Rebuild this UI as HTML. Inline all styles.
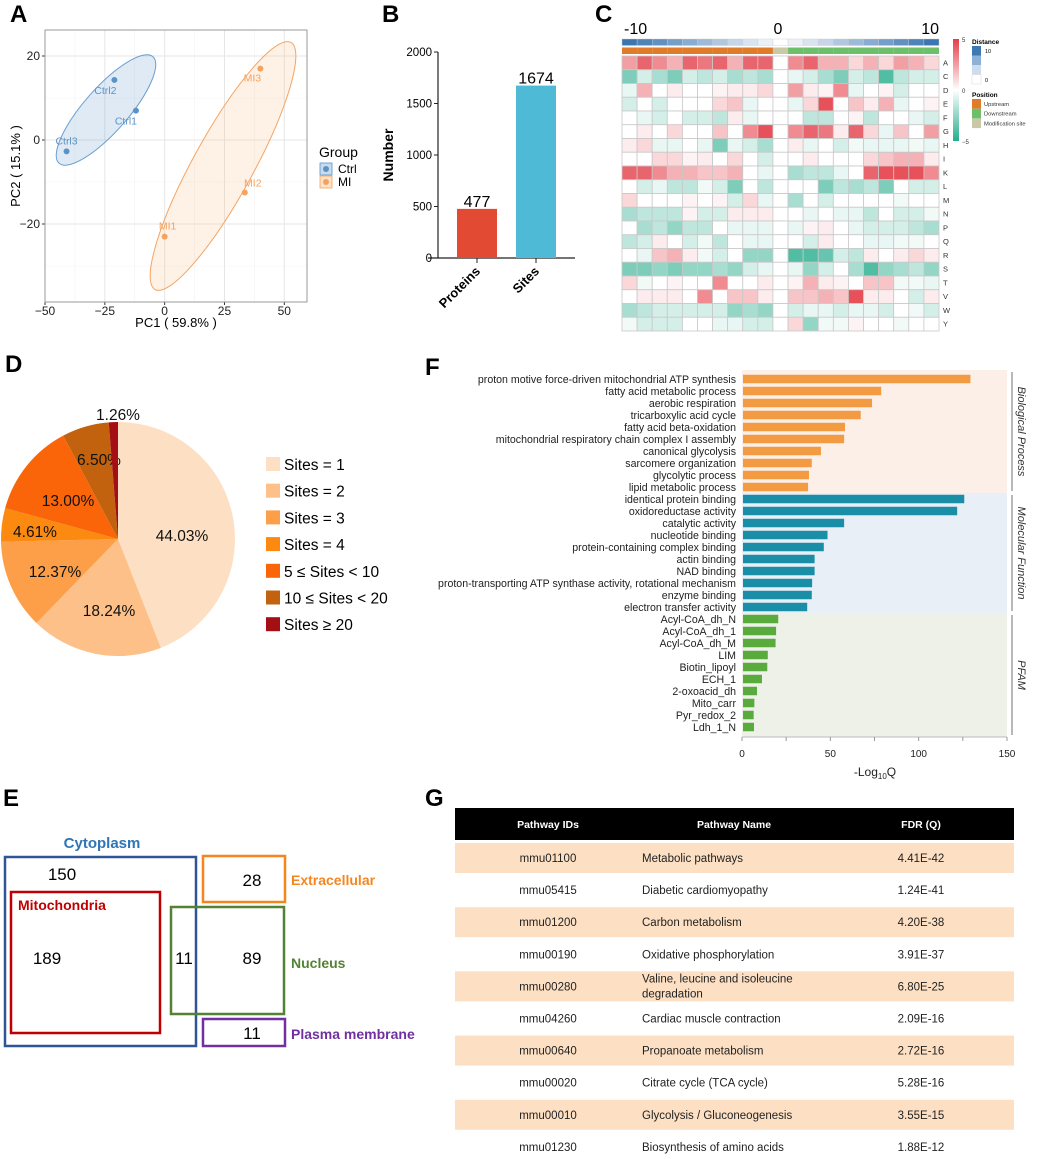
<!DOCTYPE html>
<html><head><meta charset="utf-8">
<style>
html,body{margin:0;padding:0;background:#fff;}
svg{display:block;font-family:"Liberation Sans",Arial,sans-serif;}
</style></head>
<body>
<svg id="fig" width="1052" height="1159" viewBox="0 0 1052 1159" xmlns="http://www.w3.org/2000/svg">
<rect x="0" y="0" width="1052" height="1159" fill="#fff"/>
<text x="10" y="22" font-size="24" font-weight="bold">A</text>
<text x="382" y="22" font-size="24" font-weight="bold">B</text>
<text x="595" y="22" font-size="24" font-weight="bold">C</text>
<text x="5" y="372" font-size="24" font-weight="bold">D</text>
<text x="425" y="375" font-size="24" font-weight="bold">F</text>
<text x="3" y="806" font-size="24" font-weight="bold">E</text>
<text x="425" y="806" font-size="24" font-weight="bold">G</text>

<!-- Panel E Venn-like boxes -->
<g>
<text x="102" y="848" font-size="15" font-weight="bold" fill="#2e75b6" text-anchor="middle">Cytoplasm</text>
<rect x="5" y="857" width="191" height="189" fill="none" stroke="#2f5597" stroke-width="2.5"/>
<text x="62" y="880" font-size="17" text-anchor="middle">150</text>
<rect x="11" y="892" width="149" height="141" fill="none" stroke="#c00000" stroke-width="2.5"/>
<text x="18" y="910" font-size="14" font-weight="bold" fill="#c00000">Mitochondria</text>
<text x="47" y="964" font-size="17" text-anchor="middle">189</text>
<rect x="171" y="907" width="113" height="107" fill="none" stroke="#548235" stroke-width="2.5"/>
<text x="184" y="964" font-size="17" text-anchor="middle">11</text>
<text x="252" y="964" font-size="17" text-anchor="middle">89</text>
<rect x="203" y="856" width="82" height="46" fill="none" stroke="#f5861f" stroke-width="2.5"/>
<text x="252" y="886" font-size="17" text-anchor="middle">28</text>
<rect x="203" y="1019" width="82" height="27" fill="none" stroke="#7030a0" stroke-width="2.5"/>
<text x="252" y="1039" font-size="17" text-anchor="middle">11</text>
<text x="291" y="885" font-size="14" font-weight="bold" fill="#f5861f">Extracellular</text>
<text x="291" y="968" font-size="14" font-weight="bold" fill="#548235">Nucleus</text>
<text x="291" y="1039" font-size="14" font-weight="bold" fill="#7030a0">Plasma membrane</text>
</g>
</svg>
<script>
const NS='http://www.w3.org/2000/svg';
const svg=document.getElementById('fig');
function el(tag,attrs,parent){const e=document.createElementNS(NS,tag);for(const k in attrs)e.setAttribute(k,attrs[k]);(parent||svg).appendChild(e);return e;}
function tx(str,attrs,parent){const e=el('text',attrs,parent);e.textContent=str;return e;}

/* ---------- Panel A data ---------- */
const pcaLabels=['Ctrl1','Ctrl2','Ctrl3','MI1','MI2','MI3'];
const pcaGroups=['Ctrl','Ctrl','Ctrl','MI','MI','MI'];
const pcaX=[-12,-21,-41,0,33.5,40];
const pcaY=[7,14.3,-2.7,-23,-12.5,17];
const pcaXTicks=[-50,-25,0,25,50];
const pcaYTicks=[-20,0,20];
/* ---------- Panel B data ---------- */
const barCats=['Proteins','Sites'];
const barVals=[477,1674];
const barTicks=[0,500,1000,1500,2000];
/* ---------- Panel C data ---------- */
const hmRows=['A','C','D','E','F','G','H','I','K','L','M','N','P','Q','R','S','T','V','W','Y'];
const hmPos=[-10,-9,-8,-7,-6,-5,-4,-3,-2,-1,0,1,2,3,4,5,6,7,8,9,10];
const hmA=[2.5,4,3,2,4,3.5,4,2,4,4,0,3,4,2,2,1,2,1,2.5,2,1];
const hmC=[-3,-1,-2,-3,-1,-1.5,-1,-2,-1.5,-2,0,-0.5,-1,-2,-3,-1,-1.5,-4,-1.5,-1,-1];
const hmD=[-0.5,2,0,0.5,0,0,0.3,0.5,0.5,1,0,2.5,0.5,0.3,3,-0.5,0,0.3,-1,0,0];
const hmE=[-1,0,-1,0,0,0,1,1.5,-0.5,0,0,-0.5,1,4.5,0,1.5,0.5,2,-0.5,0,0.3];
const hmF=[0,-0.5,-1,0,-1,-1,-1.5,0.5,-0.5,0,0,0,-1.5,-1.5,0,0.3,-1.5,0,0,-0.5,-1];
const hmG=[0,0.5,0,1,0,0,1.5,0,3,4.5,0,3,4,3.5,0.5,4,1,-0.5,1.5,0,2.5];
const hmH=[0.5,1,-0.5,-0.5,0,-0.5,-3,-0.5,-1,-2,0,0.5,-0.5,0,-1,-0.3,-0.5,-0.5,-0.5,-0.3,-0.5];
const hmI=[0,0,1,1,0.3,0.5,0,1,0,-1,0,0,0.5,0,0,0,1,1.5,2,2,0.5];
const hmK=[4,4,3,2,2,1.5,1.5,2,0,-0.5,0,-2,-1.5,-1.5,-0.5,0,4,4.5,4.5,4.5,3];
const hmL=[0,-1,-0.5,-1.5,-1.5,-0.3,-1,-3,0,-1.5,0,0,0,-3,-1.5,-2,-1.5,-3,0,-1,-1];
const hmM=[1,0,0,0,0.3,0,0.3,-1,1,-0.5,0,-2,0,-1,0,0,0,0,-0.3,0,0];
const hmN=[-2,-1.5,-1.5,-1.5,0.3,-1,-1,0.5,0.5,0.5,0,0,-0.5,0,-0.5,-0.5,-1.5,0,-1,-1,-0.3];
const hmP=[0,-2,-1.5,-2.5,-1.5,-1.5,0,-0.5,-0.5,-0.5,0,-0.5,0.3,0.5,0,-0.5,-1,-1,-1,-1.5,-2];
const hmQ=[-1.5,-1,0.5,0,-1,-0.3,-1.5,0,-0.5,-0.5,0,0,-1,0.5,0,0,-0.5,-0.5,-0.3,-0.3,0];
const hmR=[0,-0.5,1.5,2,0.5,-0.3,-1,0,-2.5,-2.5,0,-4,-4,-3.5,-1,-1.5,0.5,0,0.5,1,0.5];
const hmS=[-3,-3,-2.5,-3,-2.5,-2.5,-2,-2.5,-1,-0.5,0,-0.5,-2.5,-1,0,-2,-4,-2.5,-2,-1.5,-2.5];
const hmT=[1,-0.3,0,0.3,0,0,3,0,0,0.5,0,0.3,2,0.5,0.3,0,1.5,1.5,-0.3,-0.3,-0.5];
const hmV=[0,0.5,0.5,0.5,0,3,0,1.5,1.5,0.5,0,1.5,1.5,2,1.5,4.5,0.5,0.5,0,-1,0.5];
const hmW=[-2,-1.5,-1,-1,-1,-1,-1,-2.5,-2,-2.5,0,-1,-0.5,-0.5,-1,-0.5,-0.5,-1,0,-0.3,-1];
const hmY=[-0.3,-1,-1,-1,0,0,-0.5,-0.5,-1,-1,0,1,-2.5,-0.3,-0.3,0.3,0,0,-0.3,0,0];
const hmValues=[hmA,hmC,hmD,hmE,hmF,hmG,hmH,hmI,hmK,hmL,hmM,hmN,hmP,hmQ,hmR,hmS,hmT,hmV,hmW,hmY];
/* ---------- Panel D data ---------- */
const pieLabels=['Sites = 1','Sites = 2','Sites = 3','Sites = 4','5 \u2264 Sites < 10','10 \u2264 Sites < 20','Sites \u2265 20'];
const pieVals=[44.03,18.24,12.37,4.61,13.00,6.50,1.26];
/* ---------- Panel F data ---------- */
const goTerms=['proton motive force-driven mitochondrial ATP synthesis','fatty acid metabolic process','aerobic respiration','tricarboxylic acid cycle','fatty acid beta-oxidation','mitochondrial respiratory chain complex I assembly','canonical glycolysis','sarcomere organization','glycolytic process','lipid metabolic process',
'identical protein binding','oxidoreductase activity','catalytic activity','nucleotide binding','protein-containing complex binding','actin binding','NAD binding','proton-transporting ATP synthase activity, rotational mechanism','enzyme binding','electron transfer activity',
'Acyl-CoA_dh_N','Acyl-CoA_dh_1','Acyl-CoA_dh_M','LIM','Biotin_lipoyl','ECH_1','2-oxoacid_dh','Mito_carr','Pyr_redox_2','Ldh_1_N'];
const goVals=[129.3,78.8,73.6,67.2,58.3,57.8,44.7,39.5,37.9,37.4,125.8,121.8,57.8,48.4,46.3,41.1,41.1,39.7,39.5,36.9,20.5,19.3,19,14.6,14.3,11.3,8.5,7,6.6,6.8];
const goCats=['Biological Process','Molecular Function','PFAM'];
const goCatSizes=[10,10,10];
const goTicks=[0,50,100,150];
/* ---------- Panel G data ---------- */
const pwIds=['mmu01100','mmu05415','mmu01200','mmu00190','mmu00280','mmu04260','mmu00640','mmu00020','mmu00010','mmu01230'];
const pwNames=['Metabolic pathways','Diabetic cardiomyopathy','Carbon metabolism','Oxidative phosphorylation','Valine, leucine and isoleucine|degradation','Cardiac muscle contraction','Propanoate metabolism','Citrate cycle (TCA cycle)','Glycolysis / Gluconeogenesis','Biosynthesis of amino acids'];
const pwFdr=['4.41E-42','1.24E-41','4.20E-38','3.91E-37','6.80E-25','2.09E-16','2.72E-16','5.28E-16','3.55E-15','1.88E-12'];

/* ===== Panel A ===== */
(function(){
 const g=el('g',{});
 
 
 const L=45,R=307,T=30,B=302;
 const sx=v=>45+(v+50)*2.393, sy=v=>140-v*4.2;
 el('rect',{x:L,y:T,width:R-L,height:B-T,fill:'#fff'},g);
 [-37.5,-12.5,12.5,37.5].forEach(v=>el('line',{x1:sx(v),x2:sx(v),y1:T,y2:B,stroke:'#f2f2f2','stroke-width':0.6},g));
 [-30,-10,10].forEach(v=>el('line',{x1:L,x2:R,y1:sy(v),y2:sy(v),stroke:'#f2f2f2','stroke-width':0.6},g));
 pcaXTicks.forEach(v=>{
  el('line',{x1:sx(v),x2:sx(v),y1:T,y2:B,stroke:'#e6e6e6','stroke-width':1},g);
  el('line',{x1:sx(v),x2:sx(v),y1:B,y2:B+3,stroke:'#333'},g);
  const t=tx(String(v).replace('-','\u2212'),{x:sx(v),y:B+13,'font-size':12,'text-anchor':'middle',fill:'#222'},g);
  
  
 });
 pcaYTicks.forEach(v=>{
  el('line',{x1:L,x2:R,y1:sy(v),y2:sy(v),stroke:'#e6e6e6','stroke-width':1},g);
  el('line',{x1:L-3,x2:L,y1:sy(v),y2:sy(v),stroke:'#333'},g);
  const t=tx(String(v).replace('-','\u2212'),{x:L-5,y:sy(v)+4,'font-size':12,'text-anchor':'end',fill:'#222'},g);
  
  
 });
 const e1=el('ellipse',{cx:106,cy:110,rx:71,ry:22,transform:'rotate(-48.6 106 110)',fill:'#4f8dc5','fill-opacity':0.18,stroke:'#6b9fcf','stroke-width':1},g);
 
 
 const e2=el('ellipse',{cx:223,cy:166,rx:141,ry:30,transform:'rotate(-61.2 223 166)',fill:'#fbb57a','fill-opacity':0.18,stroke:'#f5a463','stroke-width':1},g);
 
 
 const off={Ctrl1:[-10,11],Ctrl2:[-9,11],Ctrl3:[0,-10],MI1:[3,-10],MI2:[8,-9],MI3:[-8,10]};
 pcaLabels.forEach((lb,i)=>{
  const c=pcaGroups[i]==='Ctrl'?'#5b93c7':'#f5a25c';
  const px=sx(pcaX[i]),py=sy(pcaY[i]);
  const p=el('circle',{cx:px,cy:py,r:3,fill:c},g);
  
  
  const o=off[lb];
  const t=tx(lb,{x:px+o[0],y:py+o[1]+3,'font-size':10.5,'text-anchor':'middle',fill:c},g);
  
  
 });
 el('rect',{x:L,y:T,width:R-L,height:B-T,fill:'none',stroke:'#999','stroke-width':1},g);
 const xt=tx('PC1 ( 59.8% )',{x:176,y:327,'font-size':13,'text-anchor':'middle'},g);
 
 
 const yt=tx('PC2 ( 15.1% )',{x:20,y:166,'font-size':13,'text-anchor':'middle',transform:'rotate(-90 20 166)'},g);
 
 
 const lt=tx('Group',{x:319,y:157,'font-size':14},g);
 
 
 [['Ctrl','#5b93c7','#c8dbec'],['MI','#f5a25c','#fde1c8']].forEach((d,i)=>{
  const y=163+i*13;
  el('rect',{x:320,y:y,width:12,height:12,fill:d[2],stroke:d[1],'stroke-width':0.8},g);
  el('circle',{cx:326,cy:y+6,r:3,fill:d[1]},g);
  const t=tx(d[0],{x:338,y:y+10,'font-size':12},g);
  
  
 });
})();

/* ===== Panel B ===== */
(function(){
 const g=el('g',{});
 
 
 const y0=258,y1=52,ax=438;
 const sy=v=>y0-(v/2000)*(y0-y1);
 const cx=[477,536],bw=40,colors=['#e34a33','#4fbad6'];
 el('line',{x1:ax,x2:ax,y1:y1,y2:y0,stroke:'#222','stroke-width':1.2},g);
 el('line',{x1:ax-10,x2:575,y1:y0,y2:y0,stroke:'#222','stroke-width':1.2},g);
 barTicks.forEach(v=>{
  el('line',{x1:ax-4,x2:ax,y1:sy(v),y2:sy(v),stroke:'#222'},g);
  const t=tx(String(v),{x:ax-6,y:sy(v)+4,'font-size':11.5,'text-anchor':'end'},g);
  
  
 });
 barVals.forEach((v,i)=>{
  const r=el('rect',{x:cx[i]-bw/2,y:sy(v),width:bw,height:y0-sy(v),fill:colors[i]},g);
  
  
  const t=tx(String(v),{x:cx[i],y:sy(v)-2,'font-size':16,'text-anchor':'middle'},g);
  
  
  el('line',{x1:cx[i],x2:cx[i],y1:y0,y2:y0+5,stroke:'#222'},g);
  const c=tx(barCats[i],{x:cx[i]+4,y:y0+14,'font-size':13,'font-weight':'bold','text-anchor':'end',transform:`rotate(-45 ${cx[i]+4} ${y0+14})`},g);
  
  
 });
 const yt=tx('Number',{x:393,y:155,'font-size':14,'font-weight':'bold','text-anchor':'middle',transform:'rotate(-90 393 155)'},g);
 
 
})();

/* ===== Panel C ===== */
(function(){
 const g=el('g',{});
 
 
 const x0=622,cw=(939-622)/21,y0=56,rh=(331-56)/20;
 const mix=(a,b,t)=>`rgb(${a.map((v,i)=>Math.round(v+(b[i]-v)*t)).join(',')})`;
 const col=v=>{const t=Math.min(Math.abs(v)/5,1);return v>=0?mix([255,255,255],[228,62,72],t):mix([255,255,255],[38,172,140],t);};
 hmPos.forEach((p,j)=>{
  const d=Math.abs(p);
  const r=el('rect',{x:x0+j*cw,y:39,width:cw,height:6.5,fill:mix([255,255,255],[58,118,176],d/10),stroke:'#ccc','stroke-width':0.4},g);
  
  
  const pc=p<0?'#e07b2a':(p>0?'#6dbf6a':'#c9c9a8');
  const r2=el('rect',{x:x0+j*cw,y:47.5,width:cw,height:6.5,fill:pc},g);
  
  
 });
 hmRows.forEach((aa,i)=>{
  hmValues[i].forEach((v,j)=>{
   const r=el('rect',{x:x0+j*cw,y:y0+i*rh,width:cw,height:rh,fill:col(v),stroke:'#c8c8c8','stroke-width':0.8},g);
   
   
  });
  const t=tx(aa,{x:943,y:y0+i*rh+rh/2+2.5,'font-size':7.5,fill:'#333'},g);
  
  
 });
 [[-10,624,'start'],[0,778,'middle'],[10,939,'end']].forEach(d=>{
  const t=tx(String(d[0]),{x:d[1],y:34,'font-size':16,'text-anchor':d[2]},g);
  
  
 });
 const defs=el('defs',{},g);
 const lg=el('linearGradient',{id:'hmgrad',x1:0,y1:0,x2:0,y2:1},defs);
 el('stop',{offset:'0','stop-color':'#e43e48'},lg);
 el('stop',{offset:'0.5','stop-color':'#ffffff'},lg);
 el('stop',{offset:'1','stop-color':'#26ac8c'},lg);
 const cb=el('rect',{x:953,y:39,width:6,height:102,fill:'url(#hmgrad)'},g);
 
 
 [['5',42],['0',93],['\u22125',144]].forEach(d=>{tx(d[0],{x:962,y:d[1],'font-size':6,fill:'#333'},g);});
 const dt=tx('Distance',{x:972,y:44,'font-size':6.5,'font-weight':'bold'},g);
 
 
 ['#3d7ab4','#8fb1d6','#cfdced','#ffffff'].forEach((c,i)=>el('rect',{x:972,y:46+i*9.5,width:9,height:9.5,fill:c,stroke:i==3?'#ccc':'none','stroke-width':0.4},g));
 tx('10',{x:985,y:53,'font-size':5.5},g);
 tx('0',{x:985,y:82,'font-size':5.5},g);
 const pt=tx('Position',{x:972,y:97,'font-size':6.5,'font-weight':'bold'},g);
 
 
 [['Upstream','#e07b2a'],['Downstream','#6dbf6a'],['Modification site','#c9c9a8']].forEach((d,i)=>{
  el('rect',{x:972,y:99+i*9.7,width:9,height:9.7,fill:d[1]},g);
  const t=tx(d[0],{x:984,y:106+i*9.7,'font-size':5.8,fill:'#333'},g);
  
  
 });
})();

/* ===== Panel D ===== */
(function(){
 const g=el('g',{});
 
 
 const cx=118,cy=539,r=117;
 const colors=['#fde0c3','#fdc088','#fd9f48','#fd8a10','#fb650a','#c2620f','#a30f14'];
 const total=pieVals.reduce((a,b)=>a+b,0);
 let acc=0;
 const pt=(f,rr)=>[cx+rr*Math.sin(2*Math.PI*f),cy-rr*Math.cos(2*Math.PI*f)];
 const labPos=[[182,541],[109,616],[55,577],[35,537],[68,506],[99,465],[118,420]];
 pieVals.forEach((v,i)=>{
  const f0=acc/total,f1=(acc+v)/total;acc+=v;
  const a=pt(f0,r),b=pt(f1,r);
  const large=(f1-f0)>0.5?1:0;
  const p=el('path',{d:`M${cx},${cy}L${a[0]},${a[1]}A${r},${r} 0 ${large} 1 ${b[0]},${b[1]}Z`,fill:colors[i]},g);
  
  
  const t=tx(v.toFixed(2)+'%',{x:labPos[i][0],y:labPos[i][1],'font-size':15.5,'text-anchor':'middle',fill:'#111'},g);
  
  
  const ly=457+i*26.7;
  el('rect',{x:266,y:ly,width:14,height:14,fill:colors[i]},g);
  const lt=tx(pieLabels[i],{x:284,y:ly+13,'font-size':15.5},g);
  
  
 });
})();

/* ===== Panel F ===== */
(function(){
 const g=el('g',{});
 
 
 const x0=742,x1=1007,c0=379,pitch=12,bh=8.5;
 const sx=v=>x0+v/150*(x1-x0);
 const bgs=['#fcefe8','#e9eff6','#eef1e8'],bars=['#f39b43','#1a8ea7','#5aab3e'];
 let start=0;
 goCats.forEach((cat,k)=>{
  const n=goCatSizes[k];
  const top=k===0?370:c0+(start-0.5)*pitch, bot=k===goCats.length-1?737:c0+(start+n-0.5)*pitch;
  const bg=el('rect',{x:x0,y:top,width:x1-x0,height:bot-top,fill:bgs[k]},g);
  
  
  el('line',{x1:1012,x2:1012,y1:top+2,y2:bot-2,stroke:'#888','stroke-width':1.2},g);
  const my=(top+bot)/2;
  const t=tx(cat,{x:1018,y:my,'font-size':11,'font-style':'italic','text-anchor':'middle',transform:`rotate(90 1018 ${my})`,fill:'#333'},g);
  
  
  start+=n;
 });
 let idx=0;
 goCats.forEach((cat,k)=>{
  for(let j=0;j<goCatSizes[k];j++,idx++){
   const cy=c0+idx*pitch;
   const r=el('rect',{x:x0+1,y:cy-bh/2,width:sx(goVals[idx])-x0-1,height:bh,fill:bars[k]},g);
   
   
   const t=tx(goTerms[idx],{x:736,y:cy+4,'font-size':10.6,'text-anchor':'end',fill:'#222'},g);
   
   
  }
 });
 el('line',{x1:x0,x2:x1,y1:737,y2:737,stroke:'#bbb','stroke-width':1},g);
 [0,25,50,75,100,125,150].forEach(v=>el('line',{x1:sx(v),x2:sx(v),y1:737,y2:741,stroke:'#999'},g));
 goTicks.forEach(v=>{
  const t=tx(String(v),{x:sx(v),y:757,'font-size':10,'text-anchor':'middle',fill:'#222'},g);
  
  
 });
 const xt=el('text',{x:875,y:776,'font-size':12,'text-anchor':'middle',fill:'#222'},g);
 
 
 xt.innerHTML='-Log<tspan font-size="8" dy="3">10</tspan><tspan dy="-3">Q</tspan>';
})();

/* ===== Panel G ===== */
(function(){
 const g=el('g',{});
 
 
 const L=455,R=1014,hTop=808,hBot=840,c0=858,pitch=32.1;
 const hdr=el('rect',{x:L,y:hTop,width:R-L,height:hBot-hTop,fill:'#000'},g);
 
 
 [['Pathway IDs',548],['Pathway Name',734],['FDR (Q)',921]].forEach(d=>{
  const t=tx(d[0],{x:d[1],y:828,'font-size':10.5,'font-weight':'bold',fill:'#fff','text-anchor':'middle'},g);
  
  
 });
 pwIds.forEach((id,i)=>{
  const cy=c0+i*pitch;
  if(i%2===0){
   const r=el('rect',{x:L,y:cy-15,width:R-L,height:30,fill:'#fde0c3'},g);
   
   
  }
  const a=tx(id,{x:548,y:cy+4,'font-size':11.5,'text-anchor':'middle',fill:'#222'},g);
  
  
  const parts=pwNames[i].split('|');
  parts.forEach((pt,k)=>{
   const yy=parts.length>1?cy-4+k*15:cy+4;
   const b=tx(pt,{x:642,y:yy,'font-size':11.5,fill:'#222'},g);
   
   
  });
  const c=tx(pwFdr[i],{x:921,y:cy+4,'font-size':11.5,'text-anchor':'middle',fill:'#222'},g);
  
  
 });
})();
</script>
</body></html>
